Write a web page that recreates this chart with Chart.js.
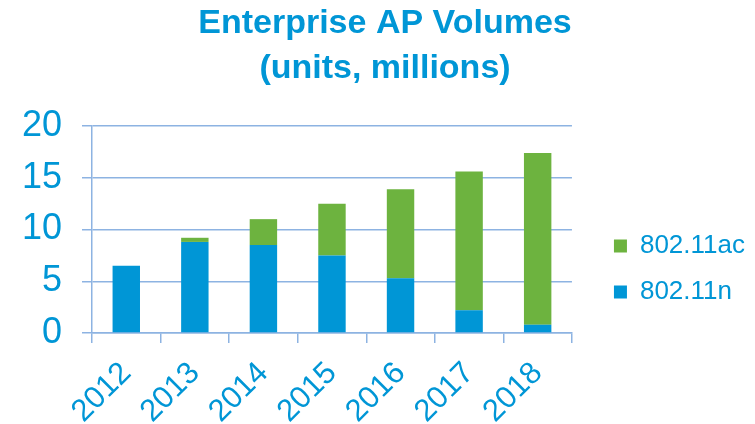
<!DOCTYPE html>
<html>
<head>
<meta charset="utf-8">
<script src="https://cdn.jsdelivr.net/npm/chart.js@4"></script>
<style>
  html, body { margin: 0; padding: 0; background: #ffffff; }
  #wrap { width: 755px; height: 424px; }
</style>
</head>
<body>
<div id="wrap"><canvas id="c" width="755" height="424"></canvas></div>
<script>
const categories = ['2012', '2013', '2014', '2015', '2016', '2017', '2018'];
const series80211n = [6.5, 8.8, 8.5, 7.5, 5.3, 2.2, 0.8];
const series80211ac = [0, 0.4, 2.5, 5.0, 8.6, 13.4, 16.6];
const seriesNames = ['802.11n', '802.11ac'];
const titleLines = ['Enterprise AP Volumes', '(units, millions)'];
const yTicks = [0, 5, 10, 15, 20];

const BLUE = '#0096D6';
const GREEN = '#6DB33F';
const GRID = '#8DB3E2';
const TEXT = '#0096D6';

Chart.defaults.font.family = "'Liberation Sans', Arial, sans-serif";
Chart.defaults.color = TEXT;

new Chart(document.getElementById('c'), {
  type: 'bar',
  data: {
    labels: categories,
    datasets: [
      { label: seriesNames[0], data: series80211n, backgroundColor: BLUE, borderWidth: 0,
        categoryPercentage: 1, barPercentage: 0.4 },
      { label: seriesNames[1], data: series80211ac, backgroundColor: GREEN, borderWidth: 0,
        categoryPercentage: 1, barPercentage: 0.4 }
    ]
  },
  options: {
    responsive: false,
    animation: false,
    devicePixelRatio: 1,
    layout: { padding: { left: 15, right: 0, top: 0, bottom: 0 } },
    plugins: {
      title: {
        display: true,
        text: titleLines,
        color: TEXT,
        font: { size: 34, weight: 'bold', lineHeight: '45px' },
        padding: { top: 1, bottom: 35 }
      },
      legend: {
        display: true,
        position: 'right',
        align: 'start',
        reverse: true,
        maxWidth: 220,
        title: { display: true, text: '', font: { size: 10, lineHeight: 1 }, padding: { top: 203, bottom: 0 } },
        labels: {
          color: TEXT,
          font: { size: 26 },
          boxWidth: 13,
          boxHeight: 13,
          padding: 20
        }
      },
      tooltip: { enabled: false }
    },
    scales: {
      x: {
        stacked: true,
        grid: { display: true, drawOnChartArea: false, drawTicks: true, tickLength: 10, color: GRID, lineWidth: 1.5, offset: true },
        border: { display: true, color: GRID, width: 1.5 },
        ticks: { color: TEXT, font: { size: 31 }, minRotation: 45, maxRotation: 45, padding: 12, autoSkip: false },
        afterFit: (s) => { s.height = 91; }
      },
      y: {
        stacked: true,
        min: 0,
        max: 20,
        afterBuildTicks: (s) => { s.ticks = yTicks.map(v => ({ value: v })); },
        grid: { display: true, drawOnChartArea: true, drawTicks: true, tickLength: 10, color: GRID, lineWidth: 1.5 },
        border: { display: true, color: GRID, width: 1.5 },
        ticks: { color: TEXT, font: { size: 36 }, padding: 20 },
        afterFit: (s) => { s.width = 77; }
      },
      gap: {
        type: 'linear',
        position: 'right',
        display: true,
        grid: { display: false, drawTicks: false },
        border: { display: false },
        ticks: { display: false },
        afterFit: (s) => { s.width = 22; }
      }
    }
  }
});
</script>
</body>
</html>
